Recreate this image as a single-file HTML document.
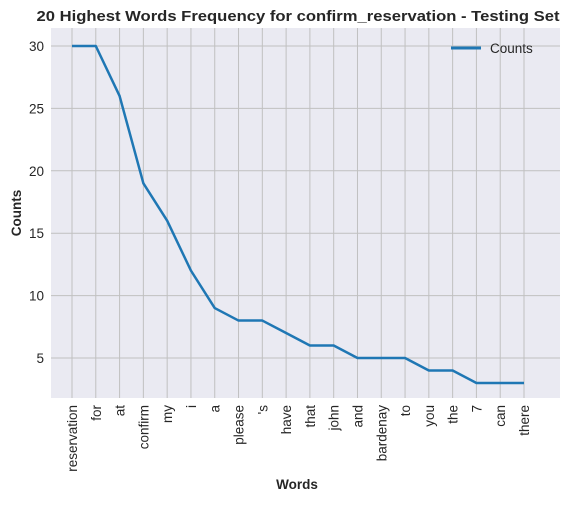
<!DOCTYPE html>
<html><head><meta charset="utf-8"><style>
body{margin:0;background:#fff;font-family:"Liberation Sans",sans-serif;}
</style></head><body>
<svg width="569" height="503" xmlns="http://www.w3.org/2000/svg" id="chart">
<text x="298" y="21" text-anchor="middle" font-size="15" font-weight="bold" fill="#262626" textLength="523" lengthAdjust="spacingAndGlyphs">20 Highest Words Frequency for confirm_reservation - Testing Set</text>
<rect x="51" y="28" width="509" height="370" fill="#eaeaf2"/>
<g id="grid"></g>
<g id="yticks"></g>
<g id="xticks"></g>
<path id="line" fill="none" stroke="#1f77b4" stroke-width="2.5" stroke-linejoin="round"/>
<g>
<line x1="451" y1="48" x2="481" y2="48" stroke="#1f77b4" stroke-width="3"/>
<text x="490" y="53" font-size="13.5" fill="#262626">Counts</text>
</g>
<text x="297" y="489" text-anchor="middle" font-size="13.5" font-weight="bold" fill="#262626">Words</text>
<text transform="translate(21,213) rotate(-90)" text-anchor="middle" font-size="13.5" font-weight="bold" fill="#262626">Counts</text>
</svg>
<script>
const words=["reservation","for","at","confirm","my","i","a","please","'s","have","that","john","and","bardenay","to","you","the","7","can","there"];
const counts=[30,30,26,19,16,12,9,8,8,7,6,6,5,5,5,4,4,3,3,3];
const yTicks=[5,10,15,20,25,30];
const NS="http://www.w3.org/2000/svg";
function xs(i){return 72+i*(524-72)/19;}
function ys(v){return 358-(v-5)*(358-46)/25;}
const grid=document.getElementById('grid'),yt=document.getElementById('yticks'),xt=document.getElementById('xticks');
function mk(tag,a,p){const e=document.createElementNS(NS,tag);for(const k in a)e.setAttribute(k,a[k]);p.appendChild(e);return e;}
yTicks.forEach(v=>{
 const l=mk('line',{x1:51,x2:560,y1:ys(v),y2:ys(v),stroke:'#c0c0c0','stroke-width':1},grid);
 
 
 const t=mk('text',{x:44,y:ys(v)+5,'text-anchor':'end','font-size':13.5,fill:'#262626'},yt);
 t.textContent=v;
 
 
});
words.forEach((w,i)=>{
 const l=mk('line',{x1:xs(i),x2:xs(i),y1:28,y2:398,stroke:'#c0c0c0','stroke-width':1},grid);
 
 
 const t=mk('text',{transform:`translate(${xs(i)+5},405) rotate(-90)`,'text-anchor':'end','font-size':13.5,fill:'#262626'},xt);
 t.textContent=w;
 
 
});
document.getElementById('line').setAttribute('d',counts.map((v,i)=>(i?'L':'M')+xs(i)+','+ys(v)).join(' '));
</script>
</body></html>
